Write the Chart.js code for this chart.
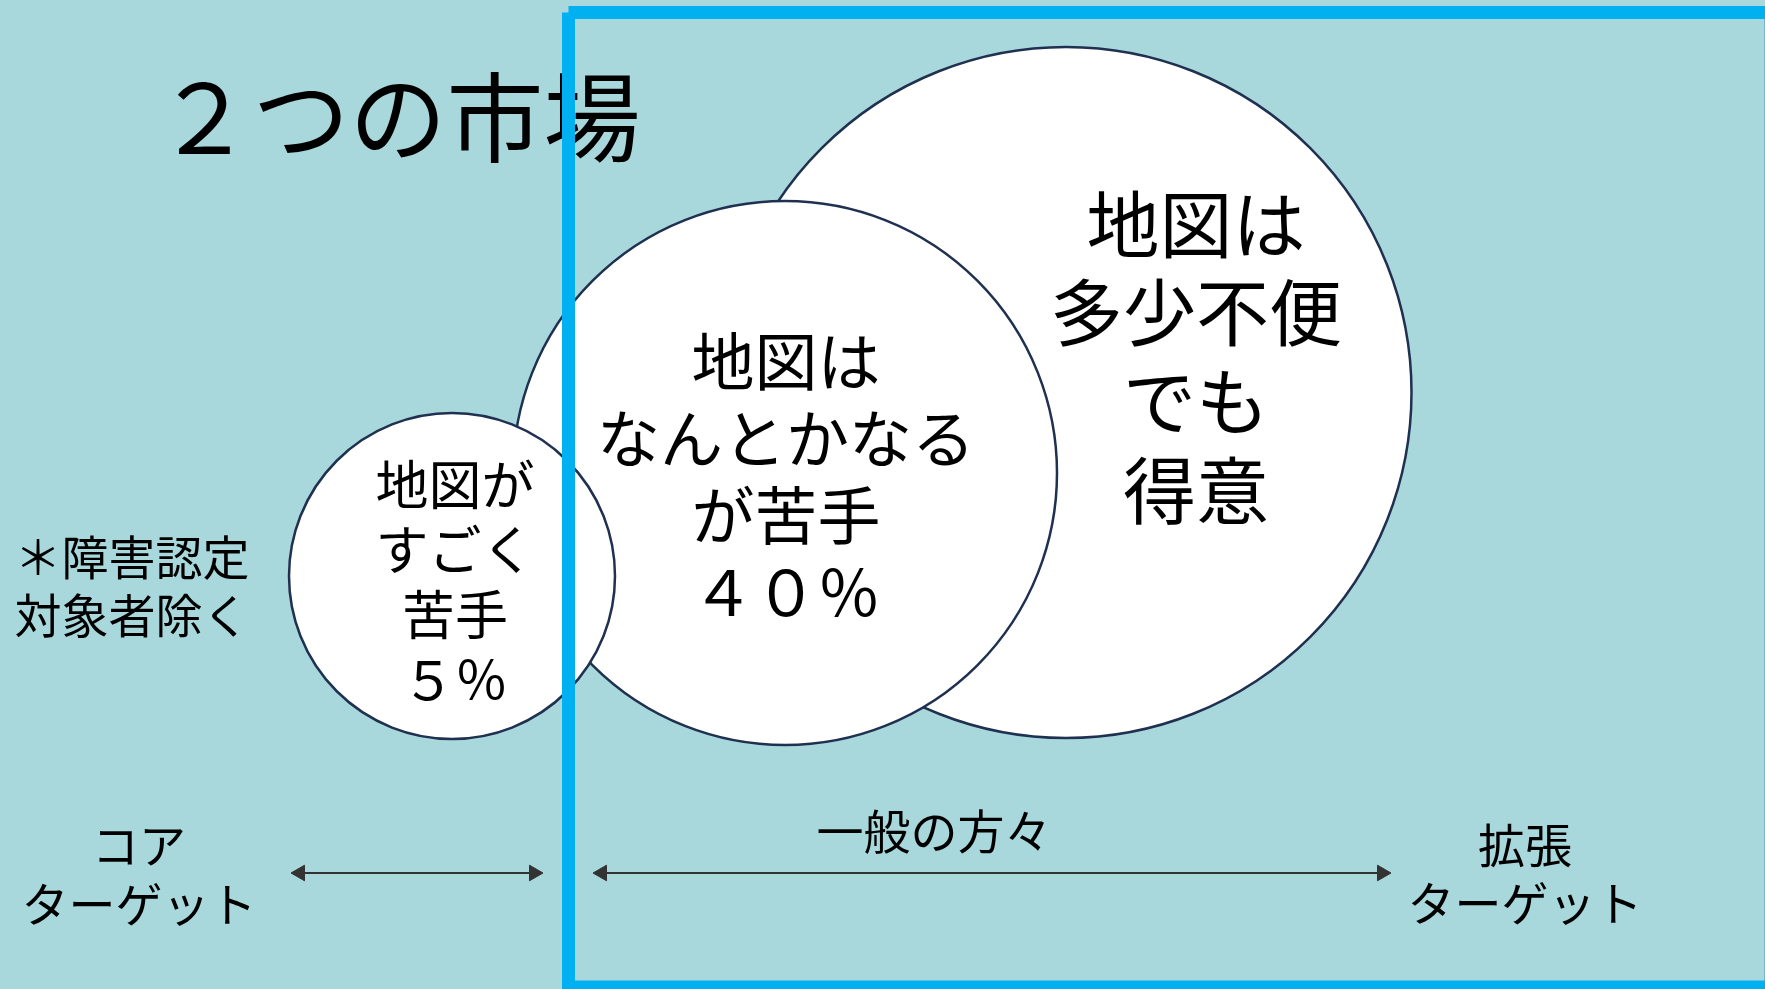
<!DOCTYPE html>
<html>
<head>
<meta charset="utf-8">
<script src="https://cdn.jsdelivr.net/npm/chart.js"></script>
<style>
  html, body { margin: 0; padding: 0; background: #A8D8DC; overflow: hidden; }
  canvas { display: block; }
</style>
</head>
<body>
<canvas id="marketChart" width="1765" height="989"></canvas>
<script>
// three market circles: centre x, centre y, radius (canvas units)
const bubbleX = [1066, 785, 452];
const bubbleY = [392.5, 473, 576];
const bubbleR = [345.5, 272, 163];

// blue frame around the "general" market
const frameX = [568.5, 1771, 1771, 568.5, 568.5];
const frameY = [12.5, 12.5, 987, 987, 12.5];

// arrows under the circles
const coreArrowX = [300, 534];
const generalArrowX = [602, 1382];
const arrowY = 873;

// text blocks
const textLines = [
  ['２つの市場'],
  ['地図は', '多少不便', 'でも', '得意'],
  ['地図は', 'なんとかなる', 'が苦手', '４０％'],
  ['地図が', 'すごく', '苦手', '５％'],
  ['＊障害認定', '対象者除く'],
  ['コア', 'ターゲット'],
  ['一般の方々'],
  ['拡張', 'ターゲット']
];
const textX = [398, 1196, 786, 455, 132, 139, 934, 1525];
const textY = [117, 357, 477, 582.5, 586, 874.5, 831, 874];
const textSize = [97, 73, 63, 53, 47, 47, 47, 47];
const textGap = [0, 88.7, 77, 65, 58, 59, 0, 58];

const FONT = '"Noto Sans CJK JP", "Noto Sans", sans-serif';

function drawBlock(chart, i) {
  const ctx = chart.ctx;
  const x = chart.scales.x.getPixelForValue(textX[i]);
  const cy = chart.scales.y.getPixelForValue(textY[i]);
  const lines = textLines[i];
  const top = cy - (lines.length - 1) * textGap[i] / 2;
  ctx.save();
  ctx.fillStyle = '#000';
  ctx.font = textSize[i] + 'px ' + FONT;
  ctx.textAlign = 'center';
  ctx.textBaseline = 'middle';
  lines.forEach((line, k) => {
    ctx.fillText(line, x, top + k * textGap[i]);
  });
  ctx.restore();
}

const textPlugin = {
  id: 'slideText',
  beforeDatasetsDraw(chart) {
    // the title sits under the blue frame
    drawBlock(chart, 0);
  },
  afterDatasetsDraw(chart) {
    for (let i = 1; i < textLines.length; i++) drawBlock(chart, i);
  }
};

const arrowStyle = {
  type: 'line',
  borderColor: '#333333',
  borderWidth: 2,
  pointStyle: 'triangle',
  pointRadius: 9,
  pointRotation: [-90, 90],
  pointBackgroundColor: '#333333',
  pointBorderColor: '#333333',
  pointBorderWidth: 1,
  fill: false,
  order: 1
};

new Chart(document.getElementById('marketChart'), {
  data: {
    datasets: [
      {
        type: 'line',
        label: 'frame',
        data: frameX.map((x, i) => ({ x: x, y: frameY[i] })),
        borderColor: '#00B0F0',
        borderWidth: 13,
        borderJoinStyle: 'miter',
        pointRadius: 0,
        fill: false,
        clip: false,
        order: 0
      },
      Object.assign({ label: 'core', data: coreArrowX.map(x => ({ x: x, y: arrowY })) }, arrowStyle),
      Object.assign({ label: 'general', data: generalArrowX.map(x => ({ x: x, y: arrowY })) }, arrowStyle),
      {
        type: 'bubble',
        label: 'markets',
        data: bubbleX.map((x, i) => ({ x: x, y: bubbleY[i], r: bubbleR[i] })),
        backgroundColor: '#FFFFFF',
        borderColor: '#1F3050',
        borderWidth: 2.5,
        clip: false,
        order: 2
      }
    ]
  },
  options: {
    responsive: false,
    devicePixelRatio: 1,
    animation: false,
    events: [],
    layout: { padding: 0, autoPadding: false },
    plugins: {
      legend: { display: false },
      tooltip: { enabled: false },
      title: { display: false }
    },
    scales: {
      x: { type: 'linear', min: 0, max: 1765, display: false },
      y: { type: 'linear', min: 0, max: 989, reverse: true, display: false }
    }
  },
  plugins: [textPlugin]
});
</script>
</body>
</html>
